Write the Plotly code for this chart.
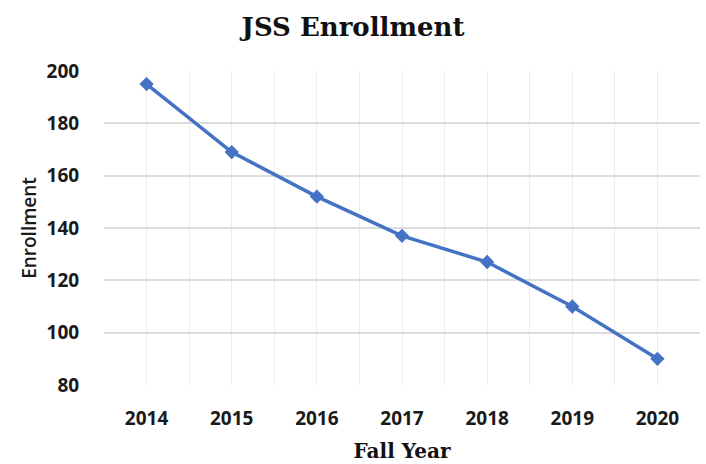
import plotly.graph_objects as go

years = ["2014", "2015", "2016", "2017", "2018", "2019", "2020"]
enrollment = [195, 169, 152, 137, 127, 110, 90]
y_ticks = [80, 100, 120, 140, 160, 180, 200]

xpos = list(range(len(years)))

fig = go.Figure()
fig.add_trace(go.Scatter(
    x=xpos, y=enrollment, mode="lines+markers",
    line=dict(color="#4472C4", width=3.5),
    marker=dict(symbol="diamond", size=11, color="#4472C4"),
    showlegend=False,
))

fig.update_layout(
    width=706, height=464,
    margin=dict(l=104, r=6, t=71, b=79),
    paper_bgcolor="white", plot_bgcolor="white",
    title=dict(text="<b>JSS Enrollment</b>", x=0.5, xanchor="center",
               y=1 - 27/464, yanchor="middle",
               font=dict(family="DejaVu Serif, serif", size=26, color="#111")),
)

fig.update_xaxes(
    automargin=False,
    range=[-0.5, len(years) - 0.5],
    tickmode="array", tickvals=xpos, ticktext=["<b>%s</b>" % y for y in years],
    tickfont=dict(family="Open Sans, Liberation Sans, sans-serif", size=19, color="#1a1a1a"),
    ticks="outside", ticklen=16, tickcolor="rgba(0,0,0,0)",
    showgrid=True, gridcolor="#ececec", gridwidth=1,
    minor=dict(tickmode="array",
               tickvals=[-0.5] + [i + 0.5 for i in xpos],
               showgrid=True, gridcolor="#ececec", gridwidth=1),
    showline=False, zeroline=False,
    title=dict(text="<b>Fall Year</b>", standoff=14,
               font=dict(family="DejaVu Serif, serif", size=20, color="#111")),
)

fig.update_yaxes(
    automargin=False,
    range=[80, 200],
    tickmode="array", tickvals=y_ticks, ticktext=["<b>%d</b>" % v for v in y_ticks],
    tickfont=dict(family="Open Sans, Liberation Sans, sans-serif", size=19, color="#1a1a1a"),
    ticks="outside", ticklen=20, tickcolor="rgba(0,0,0,0)",
    showgrid=True, gridcolor="#dcdcdc", gridwidth=1.5,
    showline=False, zeroline=False,
    title=dict(text="Enrollment", standoff=4,
               font=dict(family="Open Sans, Liberation Sans, sans-serif", size=19,
                         color="#1a1a1a", weight=600)),
)

fig.write_html("out.html", config={"displayModeBar": False},
               post_script="document.body.style.margin='0';")
